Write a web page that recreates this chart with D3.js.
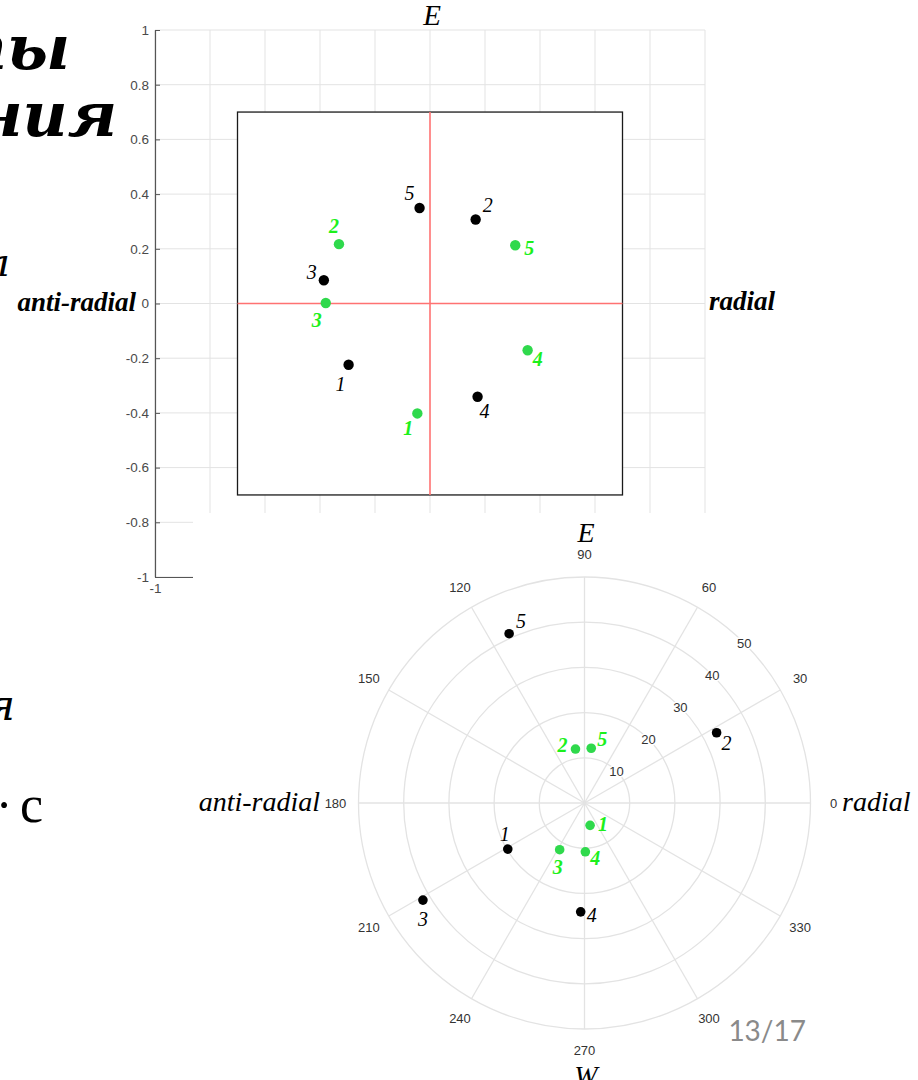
<!DOCTYPE html>
<html>
<head>
<meta charset="utf-8">
<script src="https://cdn.jsdelivr.net/npm/d3@7"></script>
<style>
  body { margin: 0; background: #fff; }
  svg { display: block; }
</style>
</head>
<body>
<svg id="slide" width="918" height="1080"></svg>
<script>
// ---- data ----
const pointIds = ["1", "2", "3", "4", "5"];

// Cartesian panel: radial (x) and E (y) components
const blackX = [-0.296, 0.166, -0.386, 0.173, -0.038];
const blackY = [-0.224, 0.307, 0.085, -0.341, 0.349];
const greenX = [-0.046, -0.331, -0.379, 0.355, 0.310];
const greenY = [-0.402, 0.217, 0.002, -0.171, 0.213];
const cartTicks = [-1, -0.8, -0.6, -0.4, -0.2, 0, 0.2, 0.4, 0.6, 0.8, 1];
const xLabelTicks = [-1];
const boxLimit = 0.7;

// Polar panel: amplitude and angle (degrees from radial)
const blackR = [19.8, 33.1, 41.7, 24.1, 41.0];
const blackTheta = [211, 28, 211, 268, 114];
const greenR = [5.1, 12.1, 11.7, 10.8, 12.2];
const greenTheta = [284, 99.5, 242, 271, 83];
const radialTicks = [10, 20, 30, 40, 50];
const angleTicks = [0, 30, 60, 90, 120, 150, 180, 210, 240, 270, 300, 330];

// ---- styles ----
const serif = "'Liberation Serif', 'Times New Roman', serif";
const sans = "'Liberation Sans', Arial, sans-serif";
const gridColor = "#e3e3e3";
const dotGreen = "#2fd94c";
const labelGreen = "#1cf01c";

const svg = d3.select("#slide");

// ---- slide text on the left ----
const slideText = svg.append("g")
  .attr("font-family", "'DejaVu Serif', serif")
  .attr("fill", "#000")
  .attr("text-anchor", "end");
slideText.append("text").attr("x", 70).attr("y", 69)
  .attr("font-size", 62).attr("font-weight", "bold").attr("font-style", "italic").text("ты");
slideText.append("text").attr("x", 117).attr("y", 136)
  .attr("font-size", 62).attr("font-weight", "bold").attr("font-style", "italic").text("ния");
slideText.append("text").attr("x", 10).attr("y", 276)
  .attr("font-size", 40).attr("font-style", "italic").text("л");
slideText.append("text").attr("x", 15).attr("y", 720)
  .attr("font-size", 42).attr("font-style", "italic").text("я");
slideText.append("text").attr("x", 4).attr("y", 822)
  .attr("text-anchor", "middle").attr("font-family", serif).attr("font-size", 50).text("·");
slideText.append("text").attr("x", 43).attr("y", 822)
  .attr("font-family", serif).attr("font-size", 52).text("с");

// ---- Cartesian panel ----
const x = d3.scaleLinear().domain([-1, 1]).range([155, 705]);
const y = d3.scaleLinear().domain([-1, 1]).range([577, 30]);
const cart = svg.append("g");

// grid
cart.append("g").selectAll("line").data(cartTicks).join("line")
  .attr("x1", d => x(d)).attr("x2", d => x(d))
  .attr("y1", y(1)).attr("y2", y(-1))
  .attr("stroke", gridColor).attr("stroke-width", 1);
cart.append("g").selectAll("line").data(cartTicks).join("line")
  .attr("x1", x(-1)).attr("x2", x(1))
  .attr("y1", d => y(d)).attr("y2", d => y(d))
  .attr("stroke", gridColor).attr("stroke-width", 1);

const fmt = d => String(+d.toFixed(1));
const yAxis = cart.append("g").attr("transform", `translate(${x(-1)},0)`)
  .call(d3.axisLeft(y).tickValues(cartTicks).tickFormat(fmt).tickSizeInner(-5).tickSizeOuter(0).tickPadding(6));
const xAxis = cart.append("g").attr("transform", `translate(0,${y(-1)})`)
  .call(d3.axisBottom(x).tickValues(xLabelTicks).tickFormat(fmt).tickSizeInner(-5).tickSizeOuter(0).tickPadding(6));
[yAxis, xAxis].forEach(a => {
  a.select(".domain").attr("stroke", "#555").attr("stroke-width", 1.2);
  a.selectAll(".tick line").attr("stroke", "#555");
  a.selectAll(".tick text").attr("fill", "#4a4a4a").attr("font-family", sans).attr("font-size", 13.5);
});

// inner box and red cross-hair
cart.append("rect")
  .attr("x", x(-boxLimit)).attr("y", y(boxLimit))
  .attr("width", x(boxLimit) - x(-boxLimit)).attr("height", y(-boxLimit) - y(boxLimit))
  .attr("fill", "#fff").attr("stroke", "#1a1a1a").attr("stroke-width", 1.3);
cart.append("line").attr("x1", x(0)).attr("x2", x(0)).attr("y1", y(boxLimit)).attr("y2", y(-boxLimit))
  .attr("stroke", "#ff7272").attr("stroke-width", 1.6);
cart.append("line").attr("x1", x(-boxLimit)).attr("x2", x(boxLimit)).attr("y1", y(0)).attr("y2", y(0))
  .attr("stroke", "#ff7272").attr("stroke-width", 1.6);

const cartBlackOff = [[-8, 19], [12, -15], [-12, -8], [7, 14], [-10, -15]];
const cartGreenOff = [[-9, 15], [-5, -18], [-9, 17], [10, 9], [14, 3]];

function drawSet(g, pts, color, labelColor, bold, offs, r) {
  g.append("g").selectAll("circle").data(pts).join("circle")
    .attr("cx", d => d[0]).attr("cy", d => d[1]).attr("r", r).attr("fill", color);
  g.append("g").selectAll("text").data(pts).join("text")
    .attr("x", (d, i) => d[0] + offs[i][0]).attr("y", (d, i) => d[1] + offs[i][1])
    .attr("text-anchor", "middle").attr("dominant-baseline", "central")
    .attr("font-family", serif).attr("font-style", "italic")
    .attr("font-weight", bold ? "bold" : "normal").attr("font-size", 20)
    .attr("fill", labelColor).text((d, i) => pointIds[i]);
}

drawSet(cart, pointIds.map((_, i) => [x(blackX[i]), y(blackY[i])]), "#000", "#000", false, cartBlackOff, 5.2);
drawSet(cart, pointIds.map((_, i) => [x(greenX[i]), y(greenY[i])]), dotGreen, labelGreen, true, cartGreenOff, 5.2);

cart.append("text").attr("x", 432).attr("y", 25).attr("text-anchor", "middle")
  .attr("font-family", serif).attr("font-style", "italic").attr("font-size", 29).text("E");
cart.append("text").attr("x", 136).attr("y", 311).attr("text-anchor", "end")
  .attr("font-family", serif).attr("font-style", "italic").attr("font-weight", "bold").attr("font-size", 27).text("anti-radial");
cart.append("text").attr("x", 709).attr("y", 310)
  .attr("font-family", serif).attr("font-style", "italic").attr("font-weight", "bold").attr("font-size", 27).text("radial");

// ---- Polar panel (sits on a white sheet over the lower part) ----
svg.append("rect").attr("x", 193).attr("y", 513).attr("width", 918 - 193).attr("height", 1080 - 513).attr("fill", "#fff");

const cx = 584.5, cy = 803;
const rScale = d3.scaleLinear().domain([0, 50]).range([0, 226]);
const rad = t => t * Math.PI / 180;
const px = (r, t) => cx + rScale(r) * Math.cos(rad(t));
const py = (r, t) => cy - rScale(r) * Math.sin(rad(t));
const polar = svg.append("g");

polar.append("g").selectAll("circle").data(radialTicks).join("circle")
  .attr("cx", cx).attr("cy", cy).attr("r", d => rScale(d))
  .attr("fill", "none").attr("stroke", gridColor).attr("stroke-width", 1.3);
polar.append("g").selectAll("line").data(angleTicks).join("line")
  .attr("x1", cx).attr("y1", cy)
  .attr("x2", d => px(50, d)).attr("y2", d => py(50, d))
  .attr("stroke", gridColor).attr("stroke-width", 1.3);

polar.append("g").selectAll("text").data(radialTicks).join("text")
  .attr("x", d => px(d, 45)).attr("y", d => py(d, 45))
  .attr("text-anchor", "middle").attr("dominant-baseline", "central")
  .attr("font-family", sans).attr("font-size", 13).attr("fill", "#333")
  .attr("stroke", "#fff").attr("stroke-width", 3).attr("paint-order", "stroke")
  .text(d => d);
polar.append("g").selectAll("text").data(angleTicks).join("text")
  .attr("x", d => cx + 249 * Math.cos(rad(d))).attr("y", d => cy - 249 * Math.sin(rad(d)) - (d === 270 ? 2 : 0))
  .attr("text-anchor", "middle").attr("dominant-baseline", "central")
  .attr("font-family", sans).attr("font-size", 13).attr("fill", "#333")
  .text(d => d);

const polBlackOff = [[-3, -15], [10, 10], [0, 19], [11, 3], [12, -13]];
const polGreenOff = [[13, -1], [-13, -4], [-2, 17], [10, 6], [11, -9]];
drawSet(polar, pointIds.map((_, i) => [px(blackR[i], blackTheta[i]), py(blackR[i], blackTheta[i])]), "#000", "#000", false, polBlackOff, 4.8);
drawSet(polar, pointIds.map((_, i) => [px(greenR[i], greenTheta[i]), py(greenR[i], greenTheta[i])]), dotGreen, labelGreen, true, polGreenOff, 4.8);

polar.append("text").attr("x", 586).attr("y", 542).attr("text-anchor", "middle")
  .attr("font-family", serif).attr("font-style", "italic").attr("font-size", 28).text("E");
polar.append("text").attr("x", 586).attr("y", 1085).attr("text-anchor", "middle")
  .attr("font-family", serif).attr("font-style", "italic").attr("font-size", 28).text("W");
polar.append("text").attr("x", 320).attr("y", 811).attr("text-anchor", "end")
  .attr("font-family", serif).attr("font-style", "italic").attr("font-size", 28).text("anti-radial");
polar.append("text").attr("x", 842).attr("y", 811)
  .attr("font-family", serif).attr("font-style", "italic").attr("font-size", 28).text("radial");

// page number
svg.append("text").attr("x", 806).attr("y", 1041).attr("text-anchor", "end")
  .attr("font-family", "Lato, 'Open Sans', sans-serif").attr("font-size", 28).attr("fill", "#8a8a8a")
  .text("13/17");
</script>
</body>
</html>
